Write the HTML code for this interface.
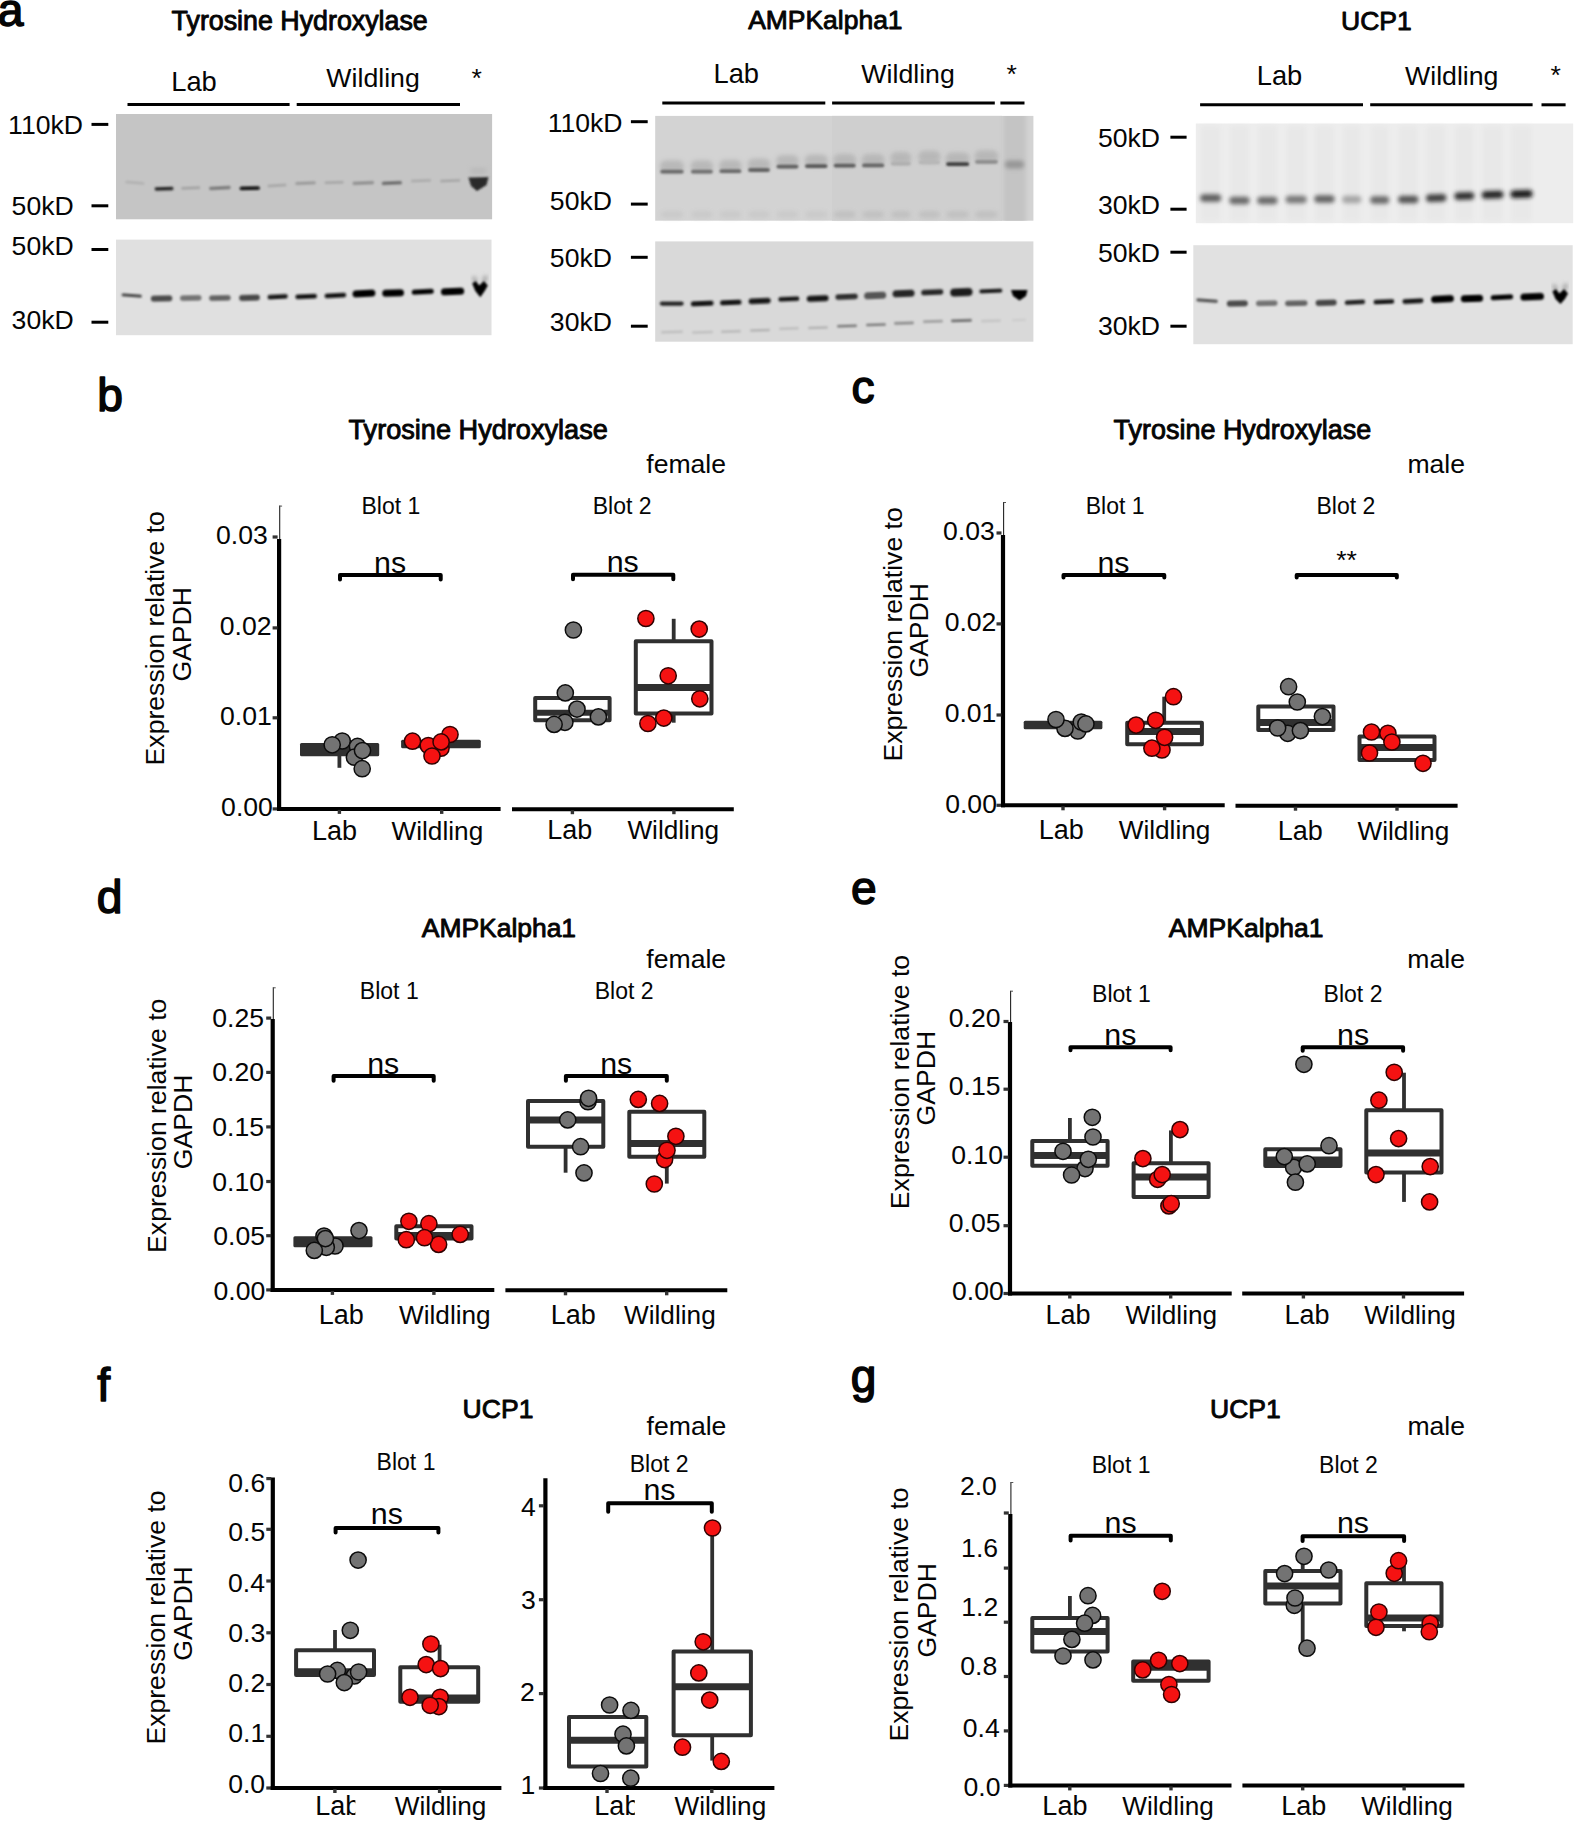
<!DOCTYPE html>
<html><head><meta charset="utf-8"><title>Figure</title>
<style>html,body{margin:0;padding:0;background:#fff}svg{display:block}text{font-family:"Liberation Sans",Arial,Helvetica,sans-serif}</style>
</head><body>
<svg width="1576" height="1821" viewBox="0 0 1576 1821">
<defs>
<filter id="b1" x="-20%" y="-200%" width="140%" height="500%"><feGaussianBlur stdDeviation="1.1"/></filter>
<filter id="b2" x="-20%" y="-200%" width="140%" height="500%"><feGaussianBlur stdDeviation="2"/></filter>
<filter id="b3" x="-30%" y="-100%" width="160%" height="300%"><feGaussianBlur stdDeviation="4"/></filter>
</defs>
<rect width="1576" height="1821" fill="#fff"/>
<g id="panel-a">
<text x="-2.16" y="25.90" font-size="46.20" fill="#050505" stroke="#050505" stroke-width="1.5" stroke-linejoin="round">a</text>
<text x="171.62" y="29.80" font-size="26.80" fill="#050505" stroke="#050505" stroke-width="0.9" stroke-linejoin="round">Tyrosine Hydroxylase</text>
<text x="171.21" y="90.80" font-size="27.30" fill="#050505">Lab</text>
<text x="326.37" y="86.90" font-size="26.70" fill="#050505">Wildling</text>
<text x="471.56" y="86.69" font-size="26.60" fill="#050505">*</text>
<line x1="127.50" y1="104.60" x2="289.60" y2="104.60" stroke="#000" stroke-width="3"/>
<line x1="296.70" y1="104.60" x2="460.00" y2="104.60" stroke="#000" stroke-width="3"/>
<text x="8.08" y="134.10" font-size="26.60" fill="#050505">110kD</text>
<line x1="91.50" y1="124.40" x2="108.30" y2="124.40" stroke="#000" stroke-width="3"/>
<text x="11.61" y="215.00" font-size="26.60" fill="#050505">50kD</text>
<line x1="91.50" y1="205.80" x2="108.30" y2="205.80" stroke="#000" stroke-width="3"/>
<text x="11.61" y="255.30" font-size="26.60" fill="#050505">50kD</text>
<line x1="91.50" y1="249.50" x2="108.30" y2="249.50" stroke="#000" stroke-width="3"/>
<text x="11.61" y="329.30" font-size="26.60" fill="#050505">30kD</text>
<line x1="91.50" y1="322.20" x2="108.30" y2="322.20" stroke="#000" stroke-width="3"/>
<rect x="116.00" y="114.00" width="376.10" height="105.30" fill="#c5c5c5"/>
<rect x="125.4" y="181.6" width="19.0" height="2.5" rx="1.2" fill="#b0b0b0" filter="url(#b1)" transform="rotate(4.8 134.9 182.8)"/>
<rect x="154.6" y="187.1" width="19.0" height="3.4" rx="1.7" fill="#282828" filter="url(#b1)" transform="rotate(-1.8 164.1 188.8)"/>
<rect x="181.2" y="186.7" width="19.1" height="2.6" rx="1.3" fill="#a0a0a0" filter="url(#b1)" transform="rotate(-2.4 190.8 188.0)"/>
<rect x="209.1" y="186.6" width="21.6" height="2.8" rx="1.4" fill="#737373" filter="url(#b1)" transform="rotate(-3.0 219.9 188.0)"/>
<rect x="239.6" y="186.5" width="20.3" height="3.6" rx="1.8" fill="#0a0a0a" filter="url(#b1)" transform="rotate(-1.2 249.8 188.3)"/>
<rect x="267.5" y="184.2" width="19.0" height="2.6" rx="1.3" fill="#a5a5a5" filter="url(#b1)" transform="rotate(-3.6 277.0 185.5)"/>
<rect x="295.4" y="181.8" width="20.3" height="2.8" rx="1.4" fill="#969696" filter="url(#b1)" transform="rotate(-2.4 305.5 183.2)"/>
<rect x="324.6" y="181.2" width="19.1" height="2.6" rx="1.3" fill="#a5a5a5" filter="url(#b1)" transform="rotate(-1.8 334.1 182.5)"/>
<rect x="352.5" y="181.6" width="21.6" height="2.8" rx="1.4" fill="#8c8c8c" filter="url(#b1)" transform="rotate(-2.4 363.3 183.0)"/>
<rect x="381.7" y="181.4" width="20.3" height="3.2" rx="1.6" fill="#646464" filter="url(#b1)" transform="rotate(-2.4 391.9 183.0)"/>
<rect x="410.9" y="179.5" width="20.3" height="2.4" rx="1.2" fill="#aaaaaa" filter="url(#b1)" transform="rotate(-2.4 421.0 180.7)"/>
<rect x="440.1" y="179.5" width="20.3" height="2.4" rx="1.2" fill="#a5a5a5" filter="url(#b1)" transform="rotate(-2.4 450.2 180.7)"/>
<path d="M468.5 177.5 L488.5 177 L486.5 185 L477 191 L471 186Z" fill="#2a2a2a" filter="url(#b1)"/>
<rect x="470.0" y="168.0" width="17.0" height="6.0" rx="3.0" fill="#bababa" filter="url(#b2)"/>
<rect x="116.00" y="239.60" width="375.50" height="95.60" fill="#e0e0e0"/>
<rect x="121.6" y="293.9" width="20.3" height="3.2" rx="1.6" fill="#464646" filter="url(#b1)" transform="rotate(4.2 131.8 295.5)"/>
<rect x="150.8" y="295.5" width="21.5" height="6.0" rx="3.0" fill="#4b4b4b" filter="url(#b1)" transform="rotate(-1.2 161.6 298.5)"/>
<rect x="180.0" y="295.2" width="21.5" height="5.5" rx="2.8" fill="#737373" filter="url(#b1)" transform="rotate(-1.2 190.8 298.0)"/>
<rect x="209.1" y="295.2" width="21.6" height="5.5" rx="2.8" fill="#646464" filter="url(#b1)" transform="rotate(-1.2 219.9 298.0)"/>
<rect x="239.1" y="294.8" width="20.8" height="6.0" rx="3.0" fill="#464646" filter="url(#b1)" transform="rotate(-1.8 249.5 297.8)"/>
<rect x="267.5" y="294.6" width="20.3" height="4.4" rx="2.2" fill="#191919" filter="url(#b1)" transform="rotate(-3.0 277.6 296.8)"/>
<rect x="295.4" y="294.2" width="21.6" height="4.6" rx="2.3" fill="#0f0f0f" filter="url(#b1)" transform="rotate(-2.4 306.2 296.5)"/>
<rect x="324.6" y="293.2" width="21.6" height="4.6" rx="2.3" fill="#0f0f0f" filter="url(#b1)" transform="rotate(-3.0 335.4 295.5)"/>
<rect x="352.5" y="290.0" width="22.9" height="7.0" rx="3.5" fill="#000000" filter="url(#b1)" transform="rotate(-3.0 363.9 293.5)"/>
<rect x="382.2" y="289.5" width="21.8" height="7.0" rx="3.5" fill="#000000" filter="url(#b1)" transform="rotate(-1.8 393.1 293.0)"/>
<rect x="411.7" y="289.2" width="22.1" height="5.0" rx="2.5" fill="#050505" filter="url(#b1)" transform="rotate(-3.0 422.8 291.7)"/>
<rect x="440.9" y="287.9" width="23.3" height="7.0" rx="3.5" fill="#000000" filter="url(#b1)" transform="rotate(-2.4 452.5 291.4)"/>
<path d="M473.37 277 L476.1 282 M485.85 276 L483.9 282" stroke="#8c8c8c" stroke-width="3" fill="none" filter="url(#b2)"/><path d="M472.2 283.5 L475.71 281 L479.2 285.5 L483.9 281 L487.8 285.5 L484.68 291 L480.3 297.3 L475.32 291Z" fill="#060606" filter="url(#b1)"/>
<text x="748.16" y="29.20" font-size="26.46" fill="#050505" stroke="#050505" stroke-width="0.9" stroke-linejoin="round">AMPKalpha1</text>
<text x="713.51" y="83.10" font-size="27.30" fill="#050505">Lab</text>
<text x="861.37" y="83.10" font-size="26.70" fill="#050505">Wildling</text>
<text x="1006.56" y="83.39" font-size="26.60" fill="#050505">*</text>
<line x1="662.30" y1="103.00" x2="825.30" y2="103.00" stroke="#000" stroke-width="3"/>
<line x1="832.10" y1="103.00" x2="994.80" y2="103.00" stroke="#000" stroke-width="3"/>
<line x1="1000.40" y1="103.00" x2="1024.50" y2="103.00" stroke="#000" stroke-width="3"/>
<text x="547.63" y="131.90" font-size="26.60" fill="#050505">110kD</text>
<line x1="630.90" y1="121.70" x2="647.70" y2="121.70" stroke="#000" stroke-width="3"/>
<text x="549.86" y="209.60" font-size="26.60" fill="#050505">50kD</text>
<line x1="630.90" y1="204.10" x2="647.70" y2="204.10" stroke="#000" stroke-width="3"/>
<text x="549.86" y="267.10" font-size="26.60" fill="#050505">50kD</text>
<line x1="630.90" y1="257.30" x2="647.70" y2="257.30" stroke="#000" stroke-width="3"/>
<text x="549.86" y="330.60" font-size="26.60" fill="#050505">30kD</text>
<line x1="630.90" y1="326.20" x2="647.70" y2="326.20" stroke="#000" stroke-width="3"/>
<rect x="655.20" y="115.90" width="378.20" height="104.80" fill="#d3d3d3"/>
<rect x="832.00" y="115.90" width="170.00" height="104.80" fill="#cfcfcf"/>
<clipPath id="ca1"><rect x="655.2" y="115.9" width="378.2" height="104.8"/></clipPath>
<g clip-path="url(#ca1)">
<rect x="1003.00" y="110.00" width="23.00" height="116.00" fill="#c4c4c4" filter="url(#b2)"/>
</g>
<rect x="659.8" y="160.2" width="24.3" height="12.0" rx="6.0" fill="#b2b2b2" filter="url(#b2)" opacity="0.8"/>
<rect x="660.8" y="211.5" width="22.3" height="6.0" rx="3.0" fill="#c8c8c8" filter="url(#b2)" opacity="0.9"/>
<rect x="690.5" y="160.2" width="22.8" height="12.0" rx="6.0" fill="#b2b2b2" filter="url(#b2)" opacity="0.8"/>
<rect x="691.5" y="211.5" width="20.8" height="6.0" rx="3.0" fill="#c8c8c8" filter="url(#b2)" opacity="0.9"/>
<rect x="719.0" y="159.7" width="22.8" height="12.0" rx="6.0" fill="#b2b2b2" filter="url(#b2)" opacity="0.8"/>
<rect x="720.0" y="211.5" width="20.8" height="6.0" rx="3.0" fill="#c8c8c8" filter="url(#b2)" opacity="0.9"/>
<rect x="747.6" y="158.5" width="22.8" height="12.0" rx="6.0" fill="#b2b2b2" filter="url(#b2)" opacity="0.8"/>
<rect x="748.6" y="211.5" width="20.8" height="6.0" rx="3.0" fill="#c8c8c8" filter="url(#b2)" opacity="0.9"/>
<rect x="776.0" y="155.1" width="22.9" height="12.0" rx="6.0" fill="#b2b2b2" filter="url(#b2)" opacity="0.8"/>
<rect x="777.0" y="211.5" width="20.9" height="6.0" rx="3.0" fill="#c8c8c8" filter="url(#b2)" opacity="0.9"/>
<rect x="804.5" y="154.6" width="23.5" height="12.0" rx="6.0" fill="#b2b2b2" filter="url(#b2)" opacity="0.8"/>
<rect x="805.5" y="211.5" width="21.5" height="6.0" rx="3.0" fill="#c8c8c8" filter="url(#b2)" opacity="0.9"/>
<rect x="833.2" y="154.1" width="23.0" height="12.0" rx="6.0" fill="#b2b2b2" filter="url(#b2)" opacity="0.8"/>
<rect x="834.2" y="211.5" width="21.0" height="6.0" rx="3.0" fill="#bebebe" filter="url(#b2)" opacity="0.9"/>
<rect x="861.6" y="153.9" width="23.1" height="12.0" rx="6.0" fill="#b2b2b2" filter="url(#b2)" opacity="0.8"/>
<rect x="862.6" y="211.5" width="21.1" height="6.0" rx="3.0" fill="#bebebe" filter="url(#b2)" opacity="0.9"/>
<rect x="890.3" y="152.1" width="21.0" height="12.0" rx="6.0" fill="#b2b2b2" filter="url(#b2)" opacity="0.8"/>
<rect x="891.3" y="211.5" width="19.0" height="6.0" rx="3.0" fill="#bebebe" filter="url(#b2)" opacity="0.9"/>
<rect x="918.2" y="150.8" width="22.3" height="12.0" rx="6.0" fill="#b2b2b2" filter="url(#b2)" opacity="0.8"/>
<rect x="919.2" y="211.5" width="20.3" height="6.0" rx="3.0" fill="#bebebe" filter="url(#b2)" opacity="0.9"/>
<rect x="945.6" y="152.6" width="24.1" height="12.0" rx="6.0" fill="#b2b2b2" filter="url(#b2)" opacity="0.8"/>
<rect x="946.6" y="211.5" width="22.1" height="6.0" rx="3.0" fill="#bebebe" filter="url(#b2)" opacity="0.9"/>
<rect x="974.5" y="150.3" width="23.9" height="12.0" rx="6.0" fill="#b2b2b2" filter="url(#b2)" opacity="0.8"/>
<rect x="975.5" y="211.5" width="21.9" height="6.0" rx="3.0" fill="#bebebe" filter="url(#b2)" opacity="0.9"/>
<rect x="660.3" y="169.8" width="23.3" height="3.8" rx="1.9" fill="#696969" filter="url(#b1)"/>
<rect x="691.0" y="169.8" width="21.8" height="3.8" rx="1.9" fill="#6e6e6e" filter="url(#b1)"/>
<rect x="719.5" y="169.3" width="21.8" height="3.8" rx="1.9" fill="#696969" filter="url(#b1)"/>
<rect x="748.1" y="168.1" width="21.8" height="3.8" rx="1.9" fill="#646464" filter="url(#b1)"/>
<rect x="776.5" y="164.7" width="21.9" height="3.8" rx="1.9" fill="#5f5f5f" filter="url(#b1)"/>
<rect x="805.0" y="164.2" width="22.5" height="3.8" rx="1.9" fill="#555555" filter="url(#b1)"/>
<rect x="833.7" y="163.7" width="22.0" height="3.8" rx="1.9" fill="#5c5c5c" filter="url(#b1)"/>
<rect x="862.1" y="163.5" width="22.1" height="3.8" rx="1.9" fill="#646464" filter="url(#b1)"/>
<rect x="890.8" y="161.7" width="20.0" height="3.8" rx="1.9" fill="#afafaf" filter="url(#b1)"/>
<rect x="918.7" y="160.4" width="21.3" height="3.8" rx="1.9" fill="#b6b6b6" filter="url(#b1)"/>
<rect x="946.1" y="162.2" width="23.1" height="3.8" rx="1.9" fill="#3c3c3c" filter="url(#b1)"/>
<rect x="975.0" y="159.9" width="22.9" height="3.8" rx="1.9" fill="#8c8c8c" filter="url(#b1)"/>
<rect x="1005.0" y="160.5" width="19.0" height="8.0" rx="4.0" fill="#969696" filter="url(#b2)"/>
<rect x="655.20" y="241.40" width="378.20" height="100.30" fill="#d9d9d9"/>
<rect x="659.8" y="301.5" width="23.9" height="4.2" rx="2.1" fill="#282828" filter="url(#b1)"/>
<rect x="690.8" y="301.1" width="22.8" height="5.0" rx="2.5" fill="#191919" filter="url(#b1)" transform="rotate(-2.4 702.2 303.6)"/>
<rect x="720.0" y="300.1" width="21.5" height="5.0" rx="2.5" fill="#191919" filter="url(#b1)" transform="rotate(-2.4 730.8 302.6)"/>
<rect x="748.6" y="298.3" width="22.1" height="5.4" rx="2.7" fill="#161616" filter="url(#b1)" transform="rotate(-2.4 759.7 301.0)"/>
<rect x="778.3" y="296.7" width="21.1" height="4.6" rx="2.3" fill="#191919" filter="url(#b1)" transform="rotate(-2.4 788.8 299.0)"/>
<rect x="806.8" y="295.5" width="21.8" height="6.0" rx="3.0" fill="#121212" filter="url(#b1)" transform="rotate(-2.4 817.7 298.5)"/>
<rect x="835.4" y="294.1" width="22.4" height="5.4" rx="2.7" fill="#2d2d2d" filter="url(#b1)" transform="rotate(-2.4 846.6 296.8)"/>
<rect x="864.1" y="292.0" width="22.1" height="7.0" rx="3.5" fill="#555555" filter="url(#b1)" transform="rotate(-2.4 875.2 295.5)"/>
<rect x="892.5" y="290.0" width="22.1" height="7.0" rx="3.5" fill="#282828" filter="url(#b1)" transform="rotate(-2.4 903.5 293.5)"/>
<rect x="921.2" y="289.5" width="22.1" height="5.4" rx="2.7" fill="#282828" filter="url(#b1)" transform="rotate(-2.4 932.2 292.2)"/>
<rect x="950.2" y="288.2" width="22.3" height="8.0" rx="4.0" fill="#1e1e1e" filter="url(#b1)" transform="rotate(-2.4 961.4 292.2)"/>
<rect x="979.3" y="288.9" width="23.1" height="4.0" rx="2.0" fill="#1c1c1c" filter="url(#b1)" transform="rotate(-2.4 990.8 290.9)"/>
<path d="M1011 290 L1027.5 290 L1026 296 L1019.5 300.5 L1013 296Z" fill="#050505" filter="url(#b1)"/>
<rect x="661.0" y="330.7" width="22.0" height="2.6" rx="1.3" fill="#bebebe" filter="url(#b1)" transform="rotate(-1.8 672.0 332.0)"/>
<rect x="692.0" y="331.0" width="21.0" height="2.6" rx="1.3" fill="#c0c0c0" filter="url(#b1)" transform="rotate(-1.8 702.5 332.3)"/>
<rect x="721.0" y="330.2" width="20.0" height="2.6" rx="1.3" fill="#b9b9b9" filter="url(#b1)" transform="rotate(-1.8 731.0 331.5)"/>
<rect x="750.0" y="329.0" width="20.0" height="2.6" rx="1.3" fill="#b4b4b4" filter="url(#b1)" transform="rotate(-1.8 760.0 330.3)"/>
<rect x="779.0" y="327.2" width="20.0" height="2.6" rx="1.3" fill="#bebebe" filter="url(#b1)" transform="rotate(-1.8 789.0 328.5)"/>
<rect x="808.0" y="326.4" width="20.0" height="2.6" rx="1.3" fill="#b4b4b4" filter="url(#b1)" transform="rotate(-1.8 818.0 327.7)"/>
<rect x="837.0" y="324.7" width="20.0" height="2.6" rx="1.3" fill="#787878" filter="url(#b1)" transform="rotate(-1.8 847.0 326.0)"/>
<rect x="866.0" y="323.4" width="20.0" height="2.6" rx="1.3" fill="#7d7d7d" filter="url(#b1)" transform="rotate(-1.8 876.0 324.7)"/>
<rect x="894.0" y="321.8" width="20.0" height="2.6" rx="1.3" fill="#8c8c8c" filter="url(#b1)" transform="rotate(-1.8 904.0 323.1)"/>
<rect x="923.0" y="320.1" width="20.0" height="2.6" rx="1.3" fill="#a0a0a0" filter="url(#b1)" transform="rotate(-1.8 933.0 321.4)"/>
<rect x="951.0" y="319.3" width="21.0" height="2.6" rx="1.3" fill="#6e6e6e" filter="url(#b1)" transform="rotate(-1.8 961.5 320.6)"/>
<rect x="981.0" y="319.6" width="20.0" height="2.6" rx="1.3" fill="#c6c6c6" filter="url(#b1)" transform="rotate(-1.8 991.0 320.9)"/>
<rect x="1012.0" y="318.7" width="14.0" height="2.6" rx="1.3" fill="#cdcdcd" filter="url(#b1)" transform="rotate(-1.8 1019.0 320.0)"/>
<text x="1341.02" y="30.30" font-size="26.54" fill="#050505" stroke="#050505" stroke-width="0.9" stroke-linejoin="round">UCP1</text>
<text x="1256.71" y="84.70" font-size="27.30" fill="#050505">Lab</text>
<text x="1405.02" y="84.70" font-size="26.70" fill="#050505">Wildling</text>
<text x="1550.51" y="84.39" font-size="26.60" fill="#050505">*</text>
<line x1="1200.10" y1="104.80" x2="1363.00" y2="104.80" stroke="#000" stroke-width="3"/>
<line x1="1370.20" y1="104.80" x2="1532.60" y2="104.80" stroke="#000" stroke-width="3"/>
<line x1="1541.50" y1="104.80" x2="1565.60" y2="104.80" stroke="#000" stroke-width="3"/>
<text x="1097.96" y="147.30" font-size="26.60" fill="#050505">50kD</text>
<line x1="1170.40" y1="137.20" x2="1186.60" y2="137.20" stroke="#000" stroke-width="3"/>
<text x="1097.96" y="214.20" font-size="26.60" fill="#050505">30kD</text>
<line x1="1170.40" y1="209.20" x2="1186.60" y2="209.20" stroke="#000" stroke-width="3"/>
<text x="1097.96" y="261.60" font-size="26.60" fill="#050505">50kD</text>
<line x1="1170.40" y1="252.20" x2="1186.60" y2="252.20" stroke="#000" stroke-width="3"/>
<text x="1097.96" y="335.30" font-size="26.60" fill="#050505">30kD</text>
<line x1="1170.40" y1="326.20" x2="1186.60" y2="326.20" stroke="#000" stroke-width="3"/>
<rect x="1195.80" y="123.50" width="377.40" height="99.70" fill="#ededed"/>
<rect x="1201.10" y="126.00" width="19.10" height="95.00" fill="#e8e8e8" filter="url(#b2)"/>
<rect x="1230.30" y="126.00" width="18.30" height="95.00" fill="#e8e8e8" filter="url(#b2)"/>
<rect x="1258.20" y="126.00" width="18.30" height="95.00" fill="#e8e8e8" filter="url(#b2)"/>
<rect x="1286.60" y="126.00" width="19.10" height="95.00" fill="#e8e8e8" filter="url(#b2)"/>
<rect x="1315.30" y="126.00" width="18.30" height="95.00" fill="#e8e8e8" filter="url(#b2)"/>
<rect x="1343.20" y="126.00" width="17.10" height="95.00" fill="#e8e8e8" filter="url(#b2)"/>
<rect x="1371.20" y="126.00" width="17.00" height="95.00" fill="#e8e8e8" filter="url(#b2)"/>
<rect x="1399.10" y="126.00" width="18.30" height="95.00" fill="#e8e8e8" filter="url(#b2)"/>
<rect x="1427.00" y="126.00" width="18.30" height="95.00" fill="#e8e8e8" filter="url(#b2)"/>
<rect x="1455.40" y="126.00" width="17.80" height="95.00" fill="#e8e8e8" filter="url(#b2)"/>
<rect x="1482.80" y="126.00" width="19.60" height="95.00" fill="#e8e8e8" filter="url(#b2)"/>
<rect x="1511.50" y="126.00" width="20.10" height="95.00" fill="#e8e8e8" filter="url(#b2)"/>
<rect x="1200.1" y="194.2" width="21.1" height="7.5" rx="3.8" fill="#5f5f5f" filter="url(#b2)"/>
<rect x="1229.3" y="196.7" width="20.3" height="7.5" rx="3.8" fill="#696969" filter="url(#b2)"/>
<rect x="1257.2" y="196.7" width="20.3" height="7.5" rx="3.8" fill="#696969" filter="url(#b2)"/>
<rect x="1285.6" y="195.8" width="21.1" height="7.5" rx="3.8" fill="#787878" filter="url(#b2)"/>
<rect x="1314.3" y="195.3" width="20.3" height="7.5" rx="3.8" fill="#646464" filter="url(#b2)"/>
<rect x="1342.2" y="195.8" width="19.1" height="7.5" rx="3.8" fill="#a5a5a5" filter="url(#b2)"/>
<rect x="1370.2" y="196.2" width="19.0" height="7.5" rx="3.8" fill="#696969" filter="url(#b2)"/>
<rect x="1398.1" y="195.8" width="20.3" height="7.5" rx="3.8" fill="#555555" filter="url(#b2)"/>
<rect x="1426.0" y="194.2" width="20.3" height="7.5" rx="3.8" fill="#3c3c3c" filter="url(#b2)" transform="rotate(-1.8 1436.2 197.9)"/>
<rect x="1454.4" y="192.3" width="19.8" height="7.5" rx="3.8" fill="#2d2d2d" filter="url(#b2)" transform="rotate(-1.8 1464.3 196.1)"/>
<rect x="1481.8" y="191.1" width="21.6" height="7.5" rx="3.8" fill="#232323" filter="url(#b2)" transform="rotate(-1.8 1492.6 194.8)"/>
<rect x="1510.5" y="190.3" width="22.1" height="7.5" rx="3.8" fill="#141414" filter="url(#b2)" transform="rotate(-1.8 1521.5 194.1)"/>
<rect x="1193.30" y="245.20" width="379.40" height="99.00" fill="#e1e1e1"/>
<rect x="1196.3" y="299.0" width="21.6" height="3.2" rx="1.6" fill="#555555" filter="url(#b1)" transform="rotate(4.2 1207.1 300.6)"/>
<rect x="1226.8" y="300.6" width="21.0" height="6.0" rx="3.0" fill="#4b4b4b" filter="url(#b1)" transform="rotate(-1.2 1237.3 303.6)"/>
<rect x="1256.0" y="300.4" width="21.5" height="5.5" rx="2.8" fill="#737373" filter="url(#b1)" transform="rotate(-1.2 1266.8 303.1)"/>
<rect x="1285.1" y="300.4" width="22.4" height="5.5" rx="2.8" fill="#646464" filter="url(#b1)" transform="rotate(-1.2 1296.3 303.1)"/>
<rect x="1315.6" y="299.8" width="21.1" height="6.0" rx="3.0" fill="#464646" filter="url(#b1)" transform="rotate(-1.8 1326.2 302.8)"/>
<rect x="1344.8" y="300.1" width="20.3" height="4.4" rx="2.2" fill="#232323" filter="url(#b1)" transform="rotate(-3.0 1354.9 302.3)"/>
<rect x="1373.5" y="299.5" width="20.8" height="4.6" rx="2.3" fill="#141414" filter="url(#b1)" transform="rotate(-2.4 1383.9 301.8)"/>
<rect x="1402.4" y="298.8" width="21.1" height="4.6" rx="2.3" fill="#141414" filter="url(#b1)" transform="rotate(-3.0 1413.0 301.1)"/>
<rect x="1431.1" y="295.5" width="22.8" height="7.0" rx="3.5" fill="#000000" filter="url(#b1)" transform="rotate(-3.0 1442.5 299.0)"/>
<rect x="1460.8" y="295.0" width="22.3" height="7.0" rx="3.5" fill="#000000" filter="url(#b1)" transform="rotate(-1.8 1471.9 298.5)"/>
<rect x="1490.7" y="294.8" width="22.4" height="5.0" rx="2.5" fill="#050505" filter="url(#b1)" transform="rotate(-3.0 1501.9 297.3)"/>
<rect x="1520.4" y="293.3" width="23.6" height="7.0" rx="3.5" fill="#000000" filter="url(#b1)" transform="rotate(-2.4 1532.2 296.8)"/>
<path d="M1553.57 285 L1556.3 290 M1566.05 284 L1564.1000000000001 290" stroke="#8c8c8c" stroke-width="3" fill="none" filter="url(#b2)"/><path d="M1552.4 291.5 L1555.91 289 L1559.4 293.5 L1564.1000000000001 289 L1568.0 293.5 L1564.88 299 L1560.5 304 L1555.52 299Z" fill="#060606" filter="url(#b1)"/>
</g>
<g id="panel-b">
<text x="97.13" y="410.90" font-size="46.20" fill="#050505" stroke="#050505" stroke-width="1.5" stroke-linejoin="round">b</text>
<text x="348.52" y="439.40" font-size="27.13" fill="#050505" stroke="#050505" stroke-width="0.9" stroke-linejoin="round">Tyrosine Hydroxylase</text>
<text x="646.25" y="473.00" font-size="26.60" fill="#050505">female</text>
<text transform="translate(164.30,765.38) rotate(-90)" font-size="26.60" fill="#050505">Expression relative to</text>
<text transform="translate(190.90,681.61) rotate(-90)" font-size="26.60" fill="#050505">GAPDH</text>
<line x1="279.70" y1="505.60" x2="279.70" y2="539.00" stroke="#222" stroke-width="1.1"/>
<line x1="279.70" y1="506.10" x2="282.10" y2="506.10" stroke="#555" stroke-width="1"/>
<line x1="279.10" y1="539.00" x2="279.10" y2="810.90" stroke="#000" stroke-width="4.2"/>
<rect x="272.60" y="535.40" width="5.00" height="3.20" fill="#333"/>
<text x="216.05" y="543.60" font-size="26.60" fill="#050505">0.03</text>
<rect x="272.60" y="626.30" width="5.00" height="3.20" fill="#333"/>
<text x="219.84" y="634.50" font-size="26.60" fill="#050505">0.02</text>
<rect x="272.60" y="716.20" width="5.00" height="3.20" fill="#333"/>
<text x="219.99" y="725.10" font-size="26.60" fill="#050505">0.01</text>
<rect x="272.60" y="807.30" width="5.00" height="3.20" fill="#333"/>
<text x="221.11" y="816.00" font-size="26.60" fill="#050505">0.00</text>
<text x="361.51" y="513.80" font-size="23.00" fill="#050505">Blot 1</text>
<text x="374.08" y="572.50" font-size="30.40" fill="#050505">ns</text>
<path d="M340.00 579.60V575.00H440.70V579.60" fill="none" stroke="#000" stroke-width="4" stroke-linejoin="round" stroke-linecap="round"/>
<line x1="277.00" y1="808.90" x2="500.60" y2="808.90" stroke="#000" stroke-width="4"/>
<line x1="339.40" y1="809.90" x2="339.40" y2="813.90" stroke="#333" stroke-width="3.4"/>
<line x1="441.70" y1="809.90" x2="441.70" y2="813.90" stroke="#333" stroke-width="3.4"/>
<line x1="339.40" y1="755.30" x2="339.40" y2="767.80" stroke="#303030" stroke-width="3.8"/>
<rect x="300.00" y="743.00" width="79.20" height="13.30" fill="#303030" rx="1.5"/>
<rect x="401.10" y="739.80" width="79.70" height="8.40" fill="#303030" rx="1.5"/>
<circle cx="342.2" cy="741.0" r="8.1" fill="#737373" stroke="#0c0c0c" stroke-width="1.5"/>
<circle cx="332.2" cy="744.8" r="8.1" fill="#737373" stroke="#0c0c0c" stroke-width="1.5"/>
<circle cx="357.5" cy="746.4" r="8.1" fill="#737373" stroke="#0c0c0c" stroke-width="1.5"/>
<circle cx="354.4" cy="757.2" r="8.1" fill="#737373" stroke="#0c0c0c" stroke-width="1.5"/>
<circle cx="362.5" cy="750.6" r="8.1" fill="#737373" stroke="#0c0c0c" stroke-width="1.5"/>
<circle cx="362.2" cy="768.7" r="8.1" fill="#737373" stroke="#0c0c0c" stroke-width="1.5"/>
<circle cx="450.0" cy="734.5" r="8.1" fill="#f51212" stroke="#300202" stroke-width="1.5"/>
<circle cx="441.0" cy="748.2" r="8.1" fill="#f51212" stroke="#300202" stroke-width="1.5"/>
<circle cx="428.3" cy="745.5" r="8.1" fill="#f51212" stroke="#300202" stroke-width="1.5"/>
<circle cx="441.1" cy="741.9" r="8.1" fill="#f51212" stroke="#300202" stroke-width="1.5"/>
<circle cx="432.0" cy="756.0" r="8.1" fill="#f51212" stroke="#300202" stroke-width="1.5"/>
<circle cx="412.5" cy="741.2" r="8.1" fill="#f51212" stroke="#300202" stroke-width="1.5"/>
<text x="312.02" y="839.50" font-size="27.00" fill="#050505">Lab</text>
<text x="391.53" y="839.50" font-size="26.20" fill="#050505">Wildling</text>
<text x="592.76" y="513.80" font-size="23.00" fill="#050505">Blot 2</text>
<text x="606.63" y="572.00" font-size="30.40" fill="#050505">ns</text>
<path d="M573.00 579.30V574.70H673.30V579.30" fill="none" stroke="#000" stroke-width="4" stroke-linejoin="round" stroke-linecap="round"/>
<line x1="512.00" y1="809.20" x2="733.80" y2="809.20" stroke="#000" stroke-width="4"/>
<line x1="572.40" y1="810.20" x2="572.40" y2="814.20" stroke="#333" stroke-width="3.4"/>
<line x1="673.90" y1="810.20" x2="673.90" y2="814.20" stroke="#333" stroke-width="3.4"/>
<rect x="535.20" y="698.00" width="74.40" height="22.30" fill="#fff" stroke="#303030" stroke-width="4" stroke-linejoin="round"/>
<line x1="534.20" y1="712.80" x2="610.60" y2="712.80" stroke="#303030" stroke-width="6"/>
<line x1="673.70" y1="618.80" x2="673.70" y2="640.20" stroke="#303030" stroke-width="3.8"/>
<line x1="673.70" y1="714.40" x2="673.70" y2="722.70" stroke="#303030" stroke-width="3.8"/>
<rect x="635.80" y="641.20" width="75.70" height="72.20" fill="#fff" stroke="#303030" stroke-width="4" stroke-linejoin="round"/>
<line x1="634.80" y1="687.50" x2="712.50" y2="687.50" stroke="#303030" stroke-width="7"/>
<circle cx="573.4" cy="630.0" r="8.1" fill="#737373" stroke="#0c0c0c" stroke-width="1.5"/>
<circle cx="565.3" cy="692.9" r="8.1" fill="#737373" stroke="#0c0c0c" stroke-width="1.5"/>
<circle cx="564.9" cy="722.3" r="8.1" fill="#737373" stroke="#0c0c0c" stroke-width="1.5"/>
<circle cx="577.0" cy="709.1" r="8.1" fill="#737373" stroke="#0c0c0c" stroke-width="1.5"/>
<circle cx="598.4" cy="716.9" r="8.1" fill="#737373" stroke="#0c0c0c" stroke-width="1.5"/>
<circle cx="554.1" cy="724.4" r="8.1" fill="#737373" stroke="#0c0c0c" stroke-width="1.5"/>
<circle cx="645.9" cy="618.5" r="8.1" fill="#f51212" stroke="#300202" stroke-width="1.5"/>
<circle cx="699.2" cy="629.1" r="8.1" fill="#f51212" stroke="#300202" stroke-width="1.5"/>
<circle cx="668.2" cy="675.8" r="8.1" fill="#f51212" stroke="#300202" stroke-width="1.5"/>
<circle cx="699.8" cy="698.8" r="8.1" fill="#f51212" stroke="#300202" stroke-width="1.5"/>
<circle cx="663.8" cy="718.1" r="8.1" fill="#f51212" stroke="#300202" stroke-width="1.5"/>
<circle cx="647.9" cy="723.5" r="8.1" fill="#f51212" stroke="#300202" stroke-width="1.5"/>
<text x="547.26" y="839.20" font-size="27.00" fill="#050505">Lab</text>
<text x="627.38" y="839.20" font-size="26.20" fill="#050505">Wildling</text>
</g>
<g id="panel-c">
<text x="851.47" y="403.00" font-size="46.20" fill="#050505" stroke="#050505" stroke-width="1.5" stroke-linejoin="round">c</text>
<text x="1113.62" y="438.70" font-size="26.95" fill="#050505" stroke="#050505" stroke-width="0.9" stroke-linejoin="round">Tyrosine Hydroxylase</text>
<text x="1407.42" y="472.50" font-size="26.60" fill="#050505">male</text>
<text transform="translate(901.90,761.48) rotate(-90)" font-size="26.60" fill="#050505">Expression relative to</text>
<text transform="translate(928.00,677.56) rotate(-90)" font-size="26.60" fill="#050505">GAPDH</text>
<line x1="1003.60" y1="502.00" x2="1003.60" y2="535.00" stroke="#222" stroke-width="1.1"/>
<line x1="1003.60" y1="502.50" x2="1006.00" y2="502.50" stroke="#555" stroke-width="1"/>
<line x1="1003.00" y1="535.00" x2="1003.00" y2="807.30" stroke="#000" stroke-width="4.2"/>
<rect x="996.50" y="531.40" width="5.00" height="3.20" fill="#333"/>
<text x="943.00" y="539.80" font-size="26.60" fill="#050505">0.03</text>
<rect x="996.50" y="622.30" width="5.00" height="3.20" fill="#333"/>
<text x="944.64" y="631.20" font-size="26.60" fill="#050505">0.02</text>
<rect x="996.50" y="713.40" width="5.00" height="3.20" fill="#333"/>
<text x="944.64" y="722.10" font-size="26.60" fill="#050505">0.01</text>
<rect x="996.50" y="803.70" width="5.00" height="3.20" fill="#333"/>
<text x="945.16" y="812.70" font-size="26.60" fill="#050505">0.00</text>
<text x="1085.71" y="513.90" font-size="23.00" fill="#050505">Blot 1</text>
<text x="1097.48" y="572.80" font-size="30.40" fill="#050505">ns</text>
<path d="M1063.50 577.50V575.00H1164.30V577.50" fill="none" stroke="#000" stroke-width="4" stroke-linejoin="round" stroke-linecap="round"/>
<line x1="1001.00" y1="805.30" x2="1224.70" y2="805.30" stroke="#000" stroke-width="4"/>
<line x1="1063.00" y1="806.30" x2="1063.00" y2="810.30" stroke="#333" stroke-width="3.4"/>
<line x1="1164.60" y1="806.30" x2="1164.60" y2="810.30" stroke="#333" stroke-width="3.4"/>
<rect x="1023.70" y="720.80" width="78.70" height="8.40" fill="#303030" rx="1.5"/>
<line x1="1164.20" y1="696.70" x2="1164.20" y2="721.80" stroke="#303030" stroke-width="3.8"/>
<rect x="1127.20" y="722.80" width="74.70" height="21.40" fill="#fff" stroke="#303030" stroke-width="4" stroke-linejoin="round"/>
<line x1="1126.20" y1="731.50" x2="1202.90" y2="731.50" stroke="#303030" stroke-width="7"/>
<circle cx="1077.8" cy="731.0" r="8.1" fill="#737373" stroke="#0c0c0c" stroke-width="1.5"/>
<circle cx="1065.0" cy="728.4" r="8.1" fill="#737373" stroke="#0c0c0c" stroke-width="1.5"/>
<circle cx="1056.0" cy="719.5" r="8.1" fill="#737373" stroke="#0c0c0c" stroke-width="1.5"/>
<circle cx="1081.3" cy="722.0" r="8.1" fill="#737373" stroke="#0c0c0c" stroke-width="1.5"/>
<circle cx="1085.9" cy="723.9" r="8.1" fill="#737373" stroke="#0c0c0c" stroke-width="1.5"/>
<circle cx="1173.5" cy="696.7" r="8.1" fill="#f51212" stroke="#300202" stroke-width="1.5"/>
<circle cx="1136.1" cy="725.1" r="8.1" fill="#f51212" stroke="#300202" stroke-width="1.5"/>
<circle cx="1155.7" cy="720.3" r="8.1" fill="#f51212" stroke="#300202" stroke-width="1.5"/>
<circle cx="1162.0" cy="750.0" r="8.1" fill="#f51212" stroke="#300202" stroke-width="1.5"/>
<circle cx="1164.6" cy="737.3" r="8.1" fill="#f51212" stroke="#300202" stroke-width="1.5"/>
<circle cx="1151.9" cy="748.2" r="8.1" fill="#f51212" stroke="#300202" stroke-width="1.5"/>
<text x="1038.66" y="839.30" font-size="27.00" fill="#050505">Lab</text>
<text x="1118.68" y="839.30" font-size="26.20" fill="#050505">Wildling</text>
<text x="1316.46" y="513.70" font-size="23.00" fill="#050505">Blot 2</text>
<text x="1336.13" y="569.10" font-size="26.60" fill="#050505">**</text>
<path d="M1296.70 577.50V575.00H1396.80V577.50" fill="none" stroke="#000" stroke-width="4" stroke-linejoin="round" stroke-linecap="round"/>
<line x1="1235.50" y1="805.70" x2="1457.60" y2="805.70" stroke="#000" stroke-width="4"/>
<line x1="1295.50" y1="806.70" x2="1295.50" y2="810.70" stroke="#333" stroke-width="3.4"/>
<line x1="1397.00" y1="806.70" x2="1397.00" y2="810.70" stroke="#333" stroke-width="3.4"/>
<rect x="1258.30" y="706.40" width="75.20" height="23.60" fill="#fff" stroke="#303030" stroke-width="4" stroke-linejoin="round"/>
<line x1="1257.30" y1="722.60" x2="1334.50" y2="722.60" stroke="#303030" stroke-width="7"/>
<rect x="1359.50" y="736.60" width="75.00" height="23.30" fill="#fff" stroke="#303030" stroke-width="4" stroke-linejoin="round"/>
<line x1="1358.50" y1="747.50" x2="1435.50" y2="747.50" stroke="#303030" stroke-width="7"/>
<circle cx="1288.6" cy="686.7" r="8.1" fill="#737373" stroke="#0c0c0c" stroke-width="1.5"/>
<circle cx="1297.3" cy="702.0" r="8.1" fill="#737373" stroke="#0c0c0c" stroke-width="1.5"/>
<circle cx="1322.4" cy="716.6" r="8.1" fill="#737373" stroke="#0c0c0c" stroke-width="1.5"/>
<circle cx="1287.7" cy="733.3" r="8.1" fill="#737373" stroke="#0c0c0c" stroke-width="1.5"/>
<circle cx="1277.6" cy="728.0" r="8.1" fill="#737373" stroke="#0c0c0c" stroke-width="1.5"/>
<circle cx="1300.4" cy="730.6" r="8.1" fill="#737373" stroke="#0c0c0c" stroke-width="1.5"/>
<circle cx="1371.5" cy="732.0" r="8.1" fill="#f51212" stroke="#300202" stroke-width="1.5"/>
<circle cx="1387.9" cy="733.3" r="8.1" fill="#f51212" stroke="#300202" stroke-width="1.5"/>
<circle cx="1391.9" cy="742.0" r="8.1" fill="#f51212" stroke="#300202" stroke-width="1.5"/>
<circle cx="1369.5" cy="753.0" r="8.1" fill="#f51212" stroke="#300202" stroke-width="1.5"/>
<circle cx="1423.0" cy="763.3" r="8.1" fill="#f51212" stroke="#300202" stroke-width="1.5"/>
<text x="1277.71" y="839.50" font-size="27.00" fill="#050505">Lab</text>
<text x="1357.53" y="839.50" font-size="26.20" fill="#050505">Wildling</text>
</g>
<g id="panel-d">
<text x="96.63" y="913.30" font-size="46.20" fill="#050505" stroke="#050505" stroke-width="1.5" stroke-linejoin="round">d</text>
<text x="421.76" y="937.20" font-size="26.44" fill="#050505" stroke="#050505" stroke-width="0.9" stroke-linejoin="round">AMPKalpha1</text>
<text x="646.35" y="967.50" font-size="26.60" fill="#050505">female</text>
<text transform="translate(165.60,1252.88) rotate(-90)" font-size="26.60" fill="#050505">Expression relative to</text>
<text transform="translate(192.00,1169.21) rotate(-90)" font-size="26.60" fill="#050505">GAPDH</text>
<line x1="273.30" y1="987.30" x2="273.30" y2="1019.00" stroke="#222" stroke-width="1.1"/>
<line x1="273.30" y1="987.80" x2="275.70" y2="987.80" stroke="#555" stroke-width="1"/>
<line x1="272.70" y1="1019.00" x2="272.70" y2="1291.90" stroke="#000" stroke-width="4.2"/>
<rect x="266.20" y="1016.50" width="5.00" height="3.20" fill="#333"/>
<text x="212.25" y="1027.30" font-size="26.60" fill="#050505">0.25</text>
<rect x="266.20" y="1070.80" width="5.00" height="3.20" fill="#333"/>
<text x="212.21" y="1081.30" font-size="26.60" fill="#050505">0.20</text>
<rect x="266.20" y="1125.30" width="5.00" height="3.20" fill="#333"/>
<text x="212.25" y="1135.80" font-size="26.60" fill="#050505">0.15</text>
<rect x="266.20" y="1179.90" width="5.00" height="3.20" fill="#333"/>
<text x="212.21" y="1190.70" font-size="26.60" fill="#050505">0.10</text>
<rect x="266.20" y="1234.10" width="5.00" height="3.20" fill="#333"/>
<text x="213.30" y="1244.70" font-size="26.60" fill="#050505">0.05</text>
<rect x="266.20" y="1288.30" width="5.00" height="3.20" fill="#333"/>
<text x="213.56" y="1300.00" font-size="26.60" fill="#050505">0.00</text>
<text x="359.86" y="998.80" font-size="23.00" fill="#050505">Blot 1</text>
<text x="367.13" y="1073.90" font-size="30.40" fill="#050505">ns</text>
<path d="M333.60 1080.70V1076.10H433.70V1080.70" fill="none" stroke="#000" stroke-width="4" stroke-linejoin="round" stroke-linecap="round"/>
<line x1="270.60" y1="1289.90" x2="494.30" y2="1289.90" stroke="#000" stroke-width="4"/>
<line x1="332.40" y1="1290.90" x2="332.40" y2="1294.90" stroke="#333" stroke-width="3.4"/>
<line x1="433.90" y1="1290.90" x2="433.90" y2="1294.90" stroke="#333" stroke-width="3.4"/>
<rect x="293.40" y="1236.30" width="79.10" height="11.00" fill="#303030" rx="1.5"/>
<rect x="396.30" y="1226.30" width="75.20" height="12.30" fill="#fff" stroke="#303030" stroke-width="4" stroke-linejoin="round"/>
<line x1="395.30" y1="1236.00" x2="472.50" y2="1236.00" stroke="#303030" stroke-width="8"/>
<circle cx="359.0" cy="1230.6" r="8.1" fill="#737373" stroke="#0c0c0c" stroke-width="1.5"/>
<circle cx="335.0" cy="1246.0" r="8.1" fill="#737373" stroke="#0c0c0c" stroke-width="1.5"/>
<circle cx="326.3" cy="1247.3" r="8.1" fill="#737373" stroke="#0c0c0c" stroke-width="1.5"/>
<circle cx="324.0" cy="1236.0" r="8.1" fill="#737373" stroke="#0c0c0c" stroke-width="1.5"/>
<circle cx="325.4" cy="1238.6" r="8.1" fill="#737373" stroke="#0c0c0c" stroke-width="1.5"/>
<circle cx="314.3" cy="1250.4" r="8.1" fill="#737373" stroke="#0c0c0c" stroke-width="1.5"/>
<circle cx="408.9" cy="1221.3" r="8.1" fill="#f51212" stroke="#300202" stroke-width="1.5"/>
<circle cx="428.9" cy="1223.7" r="8.1" fill="#f51212" stroke="#300202" stroke-width="1.5"/>
<circle cx="460.2" cy="1234.4" r="8.1" fill="#f51212" stroke="#300202" stroke-width="1.5"/>
<circle cx="406.3" cy="1239.7" r="8.1" fill="#f51212" stroke="#300202" stroke-width="1.5"/>
<circle cx="438.6" cy="1244.4" r="8.1" fill="#f51212" stroke="#300202" stroke-width="1.5"/>
<circle cx="424.5" cy="1237.7" r="8.1" fill="#f51212" stroke="#300202" stroke-width="1.5"/>
<text x="318.72" y="1324.30" font-size="27.00" fill="#050505">Lab</text>
<text x="398.98" y="1324.30" font-size="26.20" fill="#050505">Wildling</text>
<text x="594.72" y="998.80" font-size="23.00" fill="#050505">Blot 2</text>
<text x="600.23" y="1073.90" font-size="30.40" fill="#050505">ns</text>
<path d="M565.90 1080.70V1076.10H666.80V1080.70" fill="none" stroke="#000" stroke-width="4" stroke-linejoin="round" stroke-linecap="round"/>
<line x1="505.40" y1="1290.30" x2="727.30" y2="1290.30" stroke="#000" stroke-width="4"/>
<line x1="565.50" y1="1291.30" x2="565.50" y2="1295.30" stroke="#333" stroke-width="3.4"/>
<line x1="666.70" y1="1291.30" x2="666.70" y2="1295.30" stroke="#333" stroke-width="3.4"/>
<line x1="565.60" y1="1147.70" x2="565.60" y2="1172.70" stroke="#303030" stroke-width="3.8"/>
<rect x="528.00" y="1101.00" width="75.30" height="45.70" fill="#fff" stroke="#303030" stroke-width="4" stroke-linejoin="round"/>
<line x1="527.00" y1="1120.00" x2="604.30" y2="1120.00" stroke="#303030" stroke-width="7"/>
<line x1="666.80" y1="1157.70" x2="666.80" y2="1183.60" stroke="#303030" stroke-width="3.8"/>
<rect x="629.30" y="1111.70" width="75.00" height="45.00" fill="#fff" stroke="#303030" stroke-width="4" stroke-linejoin="round"/>
<line x1="628.30" y1="1143.40" x2="705.30" y2="1143.40" stroke="#303030" stroke-width="7"/>
<circle cx="588.0" cy="1101.7" r="8.1" fill="#737373" stroke="#0c0c0c" stroke-width="1.5"/>
<circle cx="588.6" cy="1098.3" r="8.1" fill="#737373" stroke="#0c0c0c" stroke-width="1.5"/>
<circle cx="567.7" cy="1119.9" r="8.1" fill="#737373" stroke="#0c0c0c" stroke-width="1.5"/>
<circle cx="580.6" cy="1146.7" r="8.1" fill="#737373" stroke="#0c0c0c" stroke-width="1.5"/>
<circle cx="584.0" cy="1172.9" r="8.1" fill="#737373" stroke="#0c0c0c" stroke-width="1.5"/>
<circle cx="638.3" cy="1099.4" r="8.1" fill="#f51212" stroke="#300202" stroke-width="1.5"/>
<circle cx="659.6" cy="1103.4" r="8.1" fill="#f51212" stroke="#300202" stroke-width="1.5"/>
<circle cx="664.6" cy="1159.6" r="8.1" fill="#f51212" stroke="#300202" stroke-width="1.5"/>
<circle cx="675.9" cy="1136.3" r="8.1" fill="#f51212" stroke="#300202" stroke-width="1.5"/>
<circle cx="667.0" cy="1150.3" r="8.1" fill="#f51212" stroke="#300202" stroke-width="1.5"/>
<circle cx="654.3" cy="1184.0" r="8.1" fill="#f51212" stroke="#300202" stroke-width="1.5"/>
<text x="550.81" y="1324.30" font-size="27.00" fill="#050505">Lab</text>
<text x="624.03" y="1324.30" font-size="26.20" fill="#050505">Wildling</text>
</g>
<g id="panel-e">
<text x="850.99" y="903.80" font-size="46.20" fill="#050505" stroke="#050505" stroke-width="1.5" stroke-linejoin="round">e</text>
<text x="1168.86" y="937.20" font-size="26.49" fill="#050505" stroke="#050505" stroke-width="0.9" stroke-linejoin="round">AMPKalpha1</text>
<text x="1407.32" y="967.50" font-size="26.60" fill="#050505">male</text>
<text transform="translate(908.50,1209.13) rotate(-90)" font-size="26.60" fill="#050505">Expression relative to</text>
<text transform="translate(935.40,1125.41) rotate(-90)" font-size="26.60" fill="#050505">GAPDH</text>
<line x1="1010.60" y1="990.70" x2="1010.60" y2="1022.00" stroke="#222" stroke-width="1.1"/>
<line x1="1010.60" y1="991.20" x2="1013.00" y2="991.20" stroke="#555" stroke-width="1"/>
<line x1="1010.00" y1="1022.00" x2="1010.00" y2="1295.50" stroke="#000" stroke-width="4.2"/>
<rect x="1003.50" y="1019.90" width="5.00" height="3.20" fill="#333"/>
<text x="948.76" y="1027.30" font-size="26.60" fill="#050505">0.20</text>
<rect x="1003.50" y="1087.60" width="5.00" height="3.20" fill="#333"/>
<text x="948.80" y="1095.30" font-size="26.60" fill="#050505">0.15</text>
<rect x="1003.50" y="1155.60" width="5.00" height="3.20" fill="#333"/>
<text x="951.16" y="1163.50" font-size="26.60" fill="#050505">0.10</text>
<rect x="1003.50" y="1224.10" width="5.00" height="3.20" fill="#333"/>
<text x="948.80" y="1232.00" font-size="26.60" fill="#050505">0.05</text>
<rect x="1003.50" y="1291.90" width="5.00" height="3.20" fill="#333"/>
<text x="952.06" y="1300.00" font-size="26.60" fill="#050505">0.00</text>
<text x="1092.06" y="1001.50" font-size="23.00" fill="#050505">Blot 1</text>
<text x="1104.28" y="1044.80" font-size="30.40" fill="#050505">ns</text>
<path d="M1070.50 1050.20V1047.20H1170.60V1050.20" fill="none" stroke="#000" stroke-width="4" stroke-linejoin="round" stroke-linecap="round"/>
<line x1="1008.00" y1="1293.50" x2="1231.70" y2="1293.50" stroke="#000" stroke-width="4"/>
<line x1="1069.80" y1="1294.50" x2="1069.80" y2="1298.50" stroke="#333" stroke-width="3.4"/>
<line x1="1170.70" y1="1294.50" x2="1170.70" y2="1298.50" stroke="#333" stroke-width="3.4"/>
<line x1="1069.90" y1="1118.00" x2="1069.90" y2="1139.90" stroke="#303030" stroke-width="3.8"/>
<rect x="1032.30" y="1140.90" width="75.30" height="24.80" fill="#fff" stroke="#303030" stroke-width="4" stroke-linejoin="round"/>
<line x1="1031.30" y1="1155.60" x2="1108.60" y2="1155.60" stroke="#303030" stroke-width="7"/>
<line x1="1170.90" y1="1130.40" x2="1170.90" y2="1162.30" stroke="#303030" stroke-width="3.8"/>
<rect x="1133.60" y="1163.30" width="75.00" height="33.60" fill="#fff" stroke="#303030" stroke-width="4" stroke-linejoin="round"/>
<line x1="1132.60" y1="1177.00" x2="1209.60" y2="1177.00" stroke="#303030" stroke-width="7"/>
<circle cx="1092.3" cy="1117.3" r="8.1" fill="#737373" stroke="#0c0c0c" stroke-width="1.5"/>
<circle cx="1093.0" cy="1137.0" r="8.1" fill="#737373" stroke="#0c0c0c" stroke-width="1.5"/>
<circle cx="1063.0" cy="1151.3" r="8.1" fill="#737373" stroke="#0c0c0c" stroke-width="1.5"/>
<circle cx="1085.0" cy="1168.6" r="8.1" fill="#737373" stroke="#0c0c0c" stroke-width="1.5"/>
<circle cx="1088.3" cy="1159.3" r="8.1" fill="#737373" stroke="#0c0c0c" stroke-width="1.5"/>
<circle cx="1071.6" cy="1175.0" r="8.1" fill="#737373" stroke="#0c0c0c" stroke-width="1.5"/>
<circle cx="1180.0" cy="1129.6" r="8.1" fill="#f51212" stroke="#300202" stroke-width="1.5"/>
<circle cx="1142.9" cy="1158.6" r="8.1" fill="#f51212" stroke="#300202" stroke-width="1.5"/>
<circle cx="1157.6" cy="1179.3" r="8.1" fill="#f51212" stroke="#300202" stroke-width="1.5"/>
<circle cx="1162.2" cy="1174.6" r="8.1" fill="#f51212" stroke="#300202" stroke-width="1.5"/>
<circle cx="1168.9" cy="1205.9" r="8.1" fill="#f51212" stroke="#300202" stroke-width="1.5"/>
<circle cx="1171.2" cy="1203.7" r="8.1" fill="#f51212" stroke="#300202" stroke-width="1.5"/>
<text x="1045.41" y="1324.30" font-size="27.00" fill="#050505">Lab</text>
<text x="1125.43" y="1324.30" font-size="26.20" fill="#050505">Wildling</text>
<text x="1323.62" y="1001.50" font-size="23.00" fill="#050505">Blot 2</text>
<text x="1337.03" y="1044.80" font-size="30.40" fill="#050505">ns</text>
<path d="M1302.70 1050.80V1047.30H1403.10V1050.80" fill="none" stroke="#000" stroke-width="4" stroke-linejoin="round" stroke-linecap="round"/>
<line x1="1242.20" y1="1293.50" x2="1464.10" y2="1293.50" stroke="#000" stroke-width="4"/>
<line x1="1303.40" y1="1294.50" x2="1303.40" y2="1298.50" stroke="#333" stroke-width="3.4"/>
<line x1="1403.50" y1="1294.50" x2="1403.50" y2="1298.50" stroke="#333" stroke-width="3.4"/>
<rect x="1265.30" y="1149.30" width="75.20" height="16.60" fill="#fff" stroke="#303030" stroke-width="4" stroke-linejoin="round"/>
<line x1="1264.30" y1="1161.30" x2="1341.50" y2="1161.30" stroke="#303030" stroke-width="9.5"/>
<line x1="1404.00" y1="1072.70" x2="1404.00" y2="1109.20" stroke="#303030" stroke-width="3.8"/>
<line x1="1404.00" y1="1173.60" x2="1404.00" y2="1201.90" stroke="#303030" stroke-width="3.8"/>
<rect x="1366.30" y="1110.20" width="75.20" height="62.40" fill="#fff" stroke="#303030" stroke-width="4" stroke-linejoin="round"/>
<line x1="1365.30" y1="1152.90" x2="1442.50" y2="1152.90" stroke="#303030" stroke-width="7"/>
<circle cx="1303.9" cy="1064.3" r="8.1" fill="#737373" stroke="#0c0c0c" stroke-width="1.5"/>
<circle cx="1329.0" cy="1145.7" r="8.1" fill="#737373" stroke="#0c0c0c" stroke-width="1.5"/>
<circle cx="1293.6" cy="1167.3" r="8.1" fill="#737373" stroke="#0c0c0c" stroke-width="1.5"/>
<circle cx="1284.3" cy="1156.6" r="8.1" fill="#737373" stroke="#0c0c0c" stroke-width="1.5"/>
<circle cx="1307.2" cy="1163.9" r="8.1" fill="#737373" stroke="#0c0c0c" stroke-width="1.5"/>
<circle cx="1295.4" cy="1182.2" r="8.1" fill="#737373" stroke="#0c0c0c" stroke-width="1.5"/>
<circle cx="1394.2" cy="1072.3" r="8.1" fill="#f51212" stroke="#300202" stroke-width="1.5"/>
<circle cx="1378.9" cy="1100.2" r="8.1" fill="#f51212" stroke="#300202" stroke-width="1.5"/>
<circle cx="1398.6" cy="1138.6" r="8.1" fill="#f51212" stroke="#300202" stroke-width="1.5"/>
<circle cx="1430.2" cy="1166.6" r="8.1" fill="#f51212" stroke="#300202" stroke-width="1.5"/>
<circle cx="1376.0" cy="1174.6" r="8.1" fill="#f51212" stroke="#300202" stroke-width="1.5"/>
<circle cx="1429.6" cy="1201.9" r="8.1" fill="#f51212" stroke="#300202" stroke-width="1.5"/>
<text x="1284.51" y="1324.30" font-size="27.00" fill="#050505">Lab</text>
<text x="1364.13" y="1324.30" font-size="26.20" fill="#050505">Wildling</text>
</g>
<g id="panel-f">
<text x="97.22" y="1401.30" font-size="46.20" fill="#050505" stroke="#050505" stroke-width="1.5" stroke-linejoin="round">f</text>
<text x="462.62" y="1418.00" font-size="26.54" fill="#050505" stroke="#050505" stroke-width="0.9" stroke-linejoin="round">UCP1</text>
<text x="646.60" y="1434.60" font-size="26.60" fill="#050505">female</text>
<text transform="translate(164.90,1744.58) rotate(-90)" font-size="26.60" fill="#050505">Expression relative to</text>
<text transform="translate(191.80,1660.76) rotate(-90)" font-size="26.60" fill="#050505">GAPDH</text>
<line x1="272.80" y1="1477.50" x2="272.80" y2="1790.00" stroke="#000" stroke-width="4.2"/>
<rect x="266.30" y="1477.00" width="5.00" height="3.20" fill="#333"/>
<text x="228.21" y="1491.50" font-size="26.60" fill="#050505">0.6</text>
<rect x="266.30" y="1527.70" width="5.00" height="3.20" fill="#333"/>
<text x="228.21" y="1541.40" font-size="26.60" fill="#050505">0.5</text>
<rect x="266.30" y="1579.40" width="5.00" height="3.20" fill="#333"/>
<text x="228.03" y="1591.90" font-size="26.60" fill="#050505">0.4</text>
<rect x="266.30" y="1631.20" width="5.00" height="3.20" fill="#333"/>
<text x="228.21" y="1642.10" font-size="26.60" fill="#050505">0.3</text>
<rect x="266.30" y="1682.90" width="5.00" height="3.20" fill="#333"/>
<text x="228.30" y="1692.00" font-size="26.60" fill="#050505">0.2</text>
<rect x="266.30" y="1734.70" width="5.00" height="3.20" fill="#333"/>
<text x="228.30" y="1741.70" font-size="26.60" fill="#050505">0.1</text>
<rect x="266.30" y="1786.40" width="5.00" height="3.20" fill="#333"/>
<text x="228.16" y="1792.90" font-size="26.60" fill="#050505">0.0</text>
<text x="376.61" y="1470.00" font-size="23.00" fill="#050505">Blot 1</text>
<text x="370.83" y="1524.40" font-size="30.40" fill="#050505">ns</text>
<path d="M335.60 1532.60V1528.00H438.40V1532.60" fill="none" stroke="#000" stroke-width="4" stroke-linejoin="round" stroke-linecap="round"/>
<line x1="270.70" y1="1788.00" x2="501.40" y2="1788.00" stroke="#000" stroke-width="4"/>
<line x1="334.90" y1="1789.00" x2="334.90" y2="1793.00" stroke="#333" stroke-width="3.4"/>
<line x1="439.60" y1="1789.00" x2="439.60" y2="1793.00" stroke="#333" stroke-width="3.4"/>
<line x1="335.00" y1="1630.00" x2="335.00" y2="1649.20" stroke="#303030" stroke-width="3.8"/>
<rect x="296.10" y="1650.20" width="77.90" height="24.80" fill="#fff" stroke="#303030" stroke-width="4" stroke-linejoin="round"/>
<line x1="295.10" y1="1671.80" x2="375.00" y2="1671.80" stroke="#303030" stroke-width="7"/>
<line x1="439.60" y1="1644.70" x2="439.60" y2="1666.30" stroke="#303030" stroke-width="3.8"/>
<rect x="400.30" y="1667.30" width="77.90" height="34.40" fill="#fff" stroke="#303030" stroke-width="4" stroke-linejoin="round"/>
<line x1="399.30" y1="1698.20" x2="479.20" y2="1698.20" stroke="#303030" stroke-width="7.5"/>
<circle cx="358.1" cy="1560.1" r="8.1" fill="#737373" stroke="#0c0c0c" stroke-width="1.5"/>
<circle cx="350.3" cy="1630.3" r="8.1" fill="#737373" stroke="#0c0c0c" stroke-width="1.5"/>
<circle cx="337.4" cy="1670.4" r="8.1" fill="#737373" stroke="#0c0c0c" stroke-width="1.5"/>
<circle cx="354.3" cy="1676.0" r="8.1" fill="#737373" stroke="#0c0c0c" stroke-width="1.5"/>
<circle cx="327.6" cy="1674.0" r="8.1" fill="#737373" stroke="#0c0c0c" stroke-width="1.5"/>
<circle cx="358.6" cy="1672.0" r="8.1" fill="#737373" stroke="#0c0c0c" stroke-width="1.5"/>
<circle cx="344.3" cy="1682.6" r="8.1" fill="#737373" stroke="#0c0c0c" stroke-width="1.5"/>
<circle cx="430.9" cy="1644.0" r="8.1" fill="#f51212" stroke="#300202" stroke-width="1.5"/>
<circle cx="426.2" cy="1664.6" r="8.1" fill="#f51212" stroke="#300202" stroke-width="1.5"/>
<circle cx="440.6" cy="1668.6" r="8.1" fill="#f51212" stroke="#300202" stroke-width="1.5"/>
<circle cx="410.0" cy="1697.3" r="8.1" fill="#f51212" stroke="#300202" stroke-width="1.5"/>
<circle cx="440.2" cy="1697.3" r="8.1" fill="#f51212" stroke="#300202" stroke-width="1.5"/>
<circle cx="438.9" cy="1706.6" r="8.1" fill="#f51212" stroke="#300202" stroke-width="1.5"/>
<circle cx="430.2" cy="1705.3" r="8.1" fill="#f51212" stroke="#300202" stroke-width="1.5"/>
<clipPath id="cf1"><rect x="312.5" y="1784.4" width="42.9" height="45"/></clipPath>
<text x="315.25" y="1814.90" font-size="27.00" fill="#050505" clip-path="url(#cf1)">Lab</text>
<text x="394.68" y="1814.90" font-size="26.20" fill="#050505">Wildling</text>
<text x="629.72" y="1472.10" font-size="23.00" fill="#050505">Blot 2</text>
<text x="643.48" y="1499.80" font-size="30.40" fill="#050505">ns</text>
<path d="M608.20 1511.70V1503.20H711.80V1511.70" fill="none" stroke="#000" stroke-width="4" stroke-linejoin="round" stroke-linecap="round"/>
<line x1="545.40" y1="1478.30" x2="545.40" y2="1790.00" stroke="#000" stroke-width="4.2"/>
<rect x="538.90" y="1504.20" width="5.00" height="3.20" fill="#333"/>
<text x="520.98" y="1516.10" font-size="26.60" fill="#050505">4</text>
<rect x="538.90" y="1598.10" width="5.00" height="3.20" fill="#333"/>
<text x="520.94" y="1609.20" font-size="26.60" fill="#050505">3</text>
<rect x="538.90" y="1692.00" width="5.00" height="3.20" fill="#333"/>
<text x="520.10" y="1701.10" font-size="26.60" fill="#050505">2</text>
<rect x="538.90" y="1786.40" width="5.00" height="3.20" fill="#333"/>
<text x="520.59" y="1793.50" font-size="26.60" fill="#050505">1</text>
<line x1="543.30" y1="1788.00" x2="774.40" y2="1788.00" stroke="#000" stroke-width="4"/>
<line x1="607.00" y1="1789.00" x2="607.00" y2="1793.00" stroke="#333" stroke-width="3.4"/>
<line x1="711.80" y1="1789.00" x2="711.80" y2="1793.00" stroke="#333" stroke-width="3.4"/>
<rect x="569.00" y="1716.90" width="77.30" height="49.70" fill="#fff" stroke="#303030" stroke-width="4" stroke-linejoin="round"/>
<line x1="568.00" y1="1740.20" x2="647.30" y2="1740.20" stroke="#303030" stroke-width="7"/>
<line x1="712.20" y1="1528.50" x2="712.20" y2="1650.60" stroke="#303030" stroke-width="3.8"/>
<line x1="712.20" y1="1736.30" x2="712.20" y2="1760.60" stroke="#303030" stroke-width="3.8"/>
<rect x="673.60" y="1651.60" width="77.30" height="83.70" fill="#fff" stroke="#303030" stroke-width="4" stroke-linejoin="round"/>
<line x1="672.60" y1="1686.70" x2="751.90" y2="1686.70" stroke="#303030" stroke-width="7"/>
<circle cx="609.6" cy="1705.0" r="8.1" fill="#737373" stroke="#0c0c0c" stroke-width="1.5"/>
<circle cx="631.0" cy="1710.4" r="8.1" fill="#737373" stroke="#0c0c0c" stroke-width="1.5"/>
<circle cx="623.0" cy="1734.2" r="8.1" fill="#737373" stroke="#0c0c0c" stroke-width="1.5"/>
<circle cx="626.4" cy="1745.9" r="8.1" fill="#737373" stroke="#0c0c0c" stroke-width="1.5"/>
<circle cx="600.5" cy="1773.5" r="8.1" fill="#737373" stroke="#0c0c0c" stroke-width="1.5"/>
<circle cx="630.8" cy="1778.2" r="8.1" fill="#737373" stroke="#0c0c0c" stroke-width="1.5"/>
<circle cx="712.5" cy="1528.0" r="8.1" fill="#f51212" stroke="#300202" stroke-width="1.5"/>
<circle cx="703.2" cy="1641.8" r="8.1" fill="#f51212" stroke="#300202" stroke-width="1.5"/>
<circle cx="698.8" cy="1672.9" r="8.1" fill="#f51212" stroke="#300202" stroke-width="1.5"/>
<circle cx="709.7" cy="1700.1" r="8.1" fill="#f51212" stroke="#300202" stroke-width="1.5"/>
<circle cx="682.5" cy="1747.2" r="8.1" fill="#f51212" stroke="#300202" stroke-width="1.5"/>
<circle cx="721.3" cy="1761.4" r="8.1" fill="#f51212" stroke="#300202" stroke-width="1.5"/>
<clipPath id="cf2"><rect x="591.6" y="1784.4" width="43.2" height="45"/></clipPath>
<text x="594.35" y="1814.90" font-size="27.00" fill="#050505" clip-path="url(#cf2)">Lab</text>
<text x="674.53" y="1814.90" font-size="26.20" fill="#050505">Wildling</text>
</g>
<g id="panel-g">
<text x="850.73" y="1392.00" font-size="46.00" fill="#050505" stroke="#050505" stroke-width="1.5" stroke-linejoin="round">g</text>
<text x="1210.02" y="1417.80" font-size="26.54" fill="#050505" stroke="#050505" stroke-width="0.9" stroke-linejoin="round">UCP1</text>
<text x="1407.42" y="1434.60" font-size="26.60" fill="#050505">male</text>
<text transform="translate(908.40,1741.58) rotate(-90)" font-size="26.60" fill="#050505">Expression relative to</text>
<text transform="translate(935.60,1657.56) rotate(-90)" font-size="26.60" fill="#050505">GAPDH</text>
<line x1="1010.90" y1="1482.00" x2="1010.90" y2="1514.00" stroke="#222" stroke-width="1.1"/>
<line x1="1010.90" y1="1482.50" x2="1013.30" y2="1482.50" stroke="#555" stroke-width="1"/>
<line x1="1010.30" y1="1514.00" x2="1010.30" y2="1787.40" stroke="#000" stroke-width="4.2"/>
<rect x="1003.80" y="1511.40" width="5.00" height="3.20" fill="#333"/>
<text x="959.88" y="1495.40" font-size="26.60" fill="#050505">2.0</text>
<rect x="1003.80" y="1566.50" width="5.00" height="3.20" fill="#333"/>
<text x="961.12" y="1556.70" font-size="26.60" fill="#050505">1.6</text>
<rect x="1003.80" y="1620.60" width="5.00" height="3.20" fill="#333"/>
<text x="961.21" y="1615.70" font-size="26.60" fill="#050505">1.2</text>
<rect x="1003.80" y="1674.90" width="5.00" height="3.20" fill="#333"/>
<text x="960.31" y="1675.20" font-size="26.60" fill="#050505">0.8</text>
<rect x="1003.80" y="1729.30" width="5.00" height="3.20" fill="#333"/>
<text x="962.73" y="1737.30" font-size="26.60" fill="#050505">0.4</text>
<rect x="1003.80" y="1783.80" width="5.00" height="3.20" fill="#333"/>
<text x="963.51" y="1795.50" font-size="26.60" fill="#050505">0.0</text>
<text x="1091.66" y="1472.60" font-size="23.00" fill="#050505">Blot 1</text>
<text x="1104.53" y="1533.40" font-size="30.40" fill="#050505">ns</text>
<path d="M1070.60 1540.40V1535.80H1170.80V1540.40" fill="none" stroke="#000" stroke-width="4" stroke-linejoin="round" stroke-linecap="round"/>
<line x1="1008.20" y1="1785.40" x2="1231.50" y2="1785.40" stroke="#000" stroke-width="4"/>
<line x1="1069.80" y1="1786.40" x2="1069.80" y2="1790.40" stroke="#333" stroke-width="3.4"/>
<line x1="1171.00" y1="1786.40" x2="1171.00" y2="1790.40" stroke="#333" stroke-width="3.4"/>
<line x1="1069.90" y1="1596.00" x2="1069.90" y2="1617.00" stroke="#303030" stroke-width="3.8"/>
<rect x="1032.30" y="1618.00" width="75.30" height="33.60" fill="#fff" stroke="#303030" stroke-width="4" stroke-linejoin="round"/>
<line x1="1031.30" y1="1631.60" x2="1108.60" y2="1631.60" stroke="#303030" stroke-width="7"/>
<rect x="1133.20" y="1661.60" width="75.40" height="19.10" fill="#fff" stroke="#303030" stroke-width="4" stroke-linejoin="round"/>
<line x1="1132.20" y1="1666.70" x2="1209.60" y2="1666.70" stroke="#303030" stroke-width="8"/>
<circle cx="1088.0" cy="1595.7" r="8.1" fill="#737373" stroke="#0c0c0c" stroke-width="1.5"/>
<circle cx="1092.6" cy="1615.4" r="8.1" fill="#737373" stroke="#0c0c0c" stroke-width="1.5"/>
<circle cx="1084.6" cy="1623.2" r="8.1" fill="#737373" stroke="#0c0c0c" stroke-width="1.5"/>
<circle cx="1071.9" cy="1639.4" r="8.1" fill="#737373" stroke="#0c0c0c" stroke-width="1.5"/>
<circle cx="1063.0" cy="1656.0" r="8.1" fill="#737373" stroke="#0c0c0c" stroke-width="1.5"/>
<circle cx="1093.0" cy="1659.9" r="8.1" fill="#737373" stroke="#0c0c0c" stroke-width="1.5"/>
<circle cx="1162.2" cy="1591.3" r="8.1" fill="#f51212" stroke="#300202" stroke-width="1.5"/>
<circle cx="1158.6" cy="1660.3" r="8.1" fill="#f51212" stroke="#300202" stroke-width="1.5"/>
<circle cx="1179.8" cy="1663.6" r="8.1" fill="#f51212" stroke="#300202" stroke-width="1.5"/>
<circle cx="1142.7" cy="1669.9" r="8.1" fill="#f51212" stroke="#300202" stroke-width="1.5"/>
<circle cx="1168.9" cy="1684.5" r="8.1" fill="#f51212" stroke="#300202" stroke-width="1.5"/>
<circle cx="1171.6" cy="1694.5" r="8.1" fill="#f51212" stroke="#300202" stroke-width="1.5"/>
<text x="1042.37" y="1814.90" font-size="27.00" fill="#050505">Lab</text>
<text x="1122.23" y="1814.90" font-size="26.20" fill="#050505">Wildling</text>
<text x="1319.06" y="1472.60" font-size="23.00" fill="#050505">Blot 2</text>
<text x="1336.98" y="1533.40" font-size="30.40" fill="#050505">ns</text>
<path d="M1302.60 1540.90V1536.30H1404.10V1540.90" fill="none" stroke="#000" stroke-width="4" stroke-linejoin="round" stroke-linecap="round"/>
<line x1="1242.40" y1="1785.40" x2="1464.40" y2="1785.40" stroke="#000" stroke-width="4"/>
<line x1="1302.70" y1="1786.40" x2="1302.70" y2="1790.40" stroke="#333" stroke-width="3.4"/>
<line x1="1404.10" y1="1786.40" x2="1404.10" y2="1790.40" stroke="#333" stroke-width="3.4"/>
<line x1="1302.70" y1="1557.00" x2="1302.70" y2="1570.00" stroke="#303030" stroke-width="3.8"/>
<line x1="1302.70" y1="1604.60" x2="1302.70" y2="1647.00" stroke="#303030" stroke-width="3.8"/>
<rect x="1265.30" y="1571.00" width="75.20" height="32.60" fill="#fff" stroke="#303030" stroke-width="4" stroke-linejoin="round"/>
<line x1="1264.30" y1="1586.00" x2="1341.50" y2="1586.00" stroke="#303030" stroke-width="7"/>
<line x1="1404.00" y1="1565.30" x2="1404.00" y2="1582.30" stroke="#303030" stroke-width="3.8"/>
<line x1="1404.00" y1="1627.00" x2="1404.00" y2="1631.30" stroke="#303030" stroke-width="3.8"/>
<rect x="1366.30" y="1583.30" width="75.20" height="42.70" fill="#fff" stroke="#303030" stroke-width="4" stroke-linejoin="round"/>
<line x1="1365.30" y1="1618.00" x2="1442.50" y2="1618.00" stroke="#303030" stroke-width="7"/>
<circle cx="1304.0" cy="1556.3" r="8.1" fill="#737373" stroke="#0c0c0c" stroke-width="1.5"/>
<circle cx="1284.6" cy="1573.6" r="8.1" fill="#737373" stroke="#0c0c0c" stroke-width="1.5"/>
<circle cx="1328.7" cy="1570.0" r="8.1" fill="#737373" stroke="#0c0c0c" stroke-width="1.5"/>
<circle cx="1294.3" cy="1605.3" r="8.1" fill="#737373" stroke="#0c0c0c" stroke-width="1.5"/>
<circle cx="1295.0" cy="1598.0" r="8.1" fill="#737373" stroke="#0c0c0c" stroke-width="1.5"/>
<circle cx="1307.0" cy="1648.2" r="8.1" fill="#737373" stroke="#0c0c0c" stroke-width="1.5"/>
<circle cx="1394.2" cy="1573.3" r="8.1" fill="#f51212" stroke="#300202" stroke-width="1.5"/>
<circle cx="1398.6" cy="1560.7" r="8.1" fill="#f51212" stroke="#300202" stroke-width="1.5"/>
<circle cx="1378.9" cy="1612.0" r="8.1" fill="#f51212" stroke="#300202" stroke-width="1.5"/>
<circle cx="1376.0" cy="1627.3" r="8.1" fill="#f51212" stroke="#300202" stroke-width="1.5"/>
<circle cx="1430.2" cy="1623.3" r="8.1" fill="#f51212" stroke="#300202" stroke-width="1.5"/>
<circle cx="1429.3" cy="1631.7" r="8.1" fill="#f51212" stroke="#300202" stroke-width="1.5"/>
<text x="1281.22" y="1814.90" font-size="27.00" fill="#050505">Lab</text>
<text x="1361.13" y="1814.90" font-size="26.20" fill="#050505">Wildling</text>
</g>
</svg>
</body></html>
